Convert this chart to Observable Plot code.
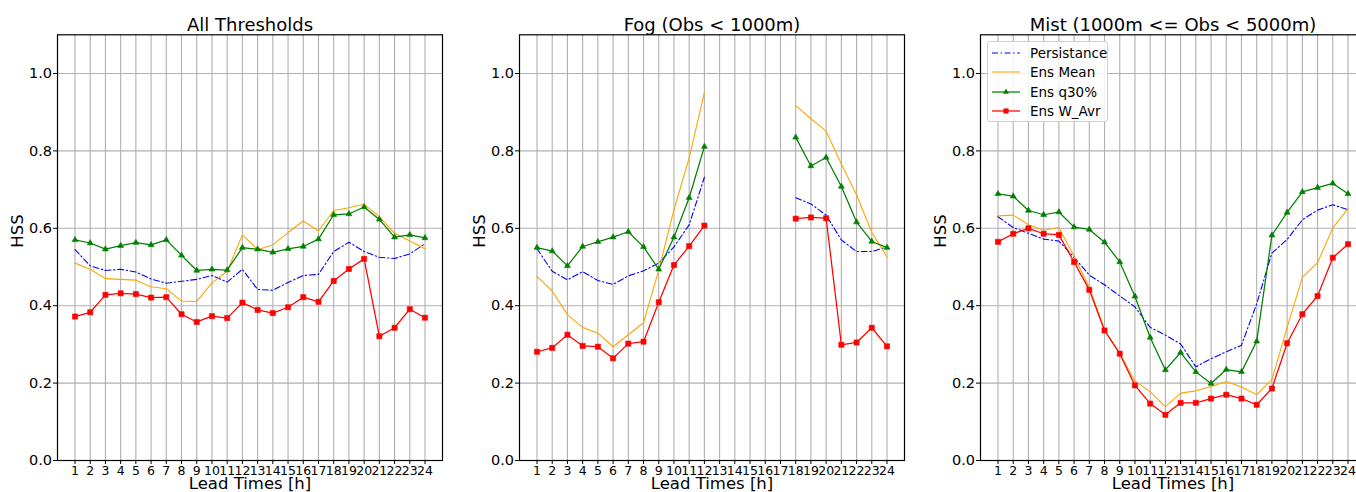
<!DOCTYPE html>
<html>
<head>
<meta charset="utf-8">
<script src="https://cdn.jsdelivr.net/npm/d3@7"></script>
<script src="https://cdn.jsdelivr.net/npm/@observablehq/plot@0.6"></script>
<style>
  html, body { margin: 0; padding: 0; background: #fff; }
  #wrap { position: relative; width: 1356px; height: 492px; overflow: hidden; font-family: "DejaVu Sans", sans-serif; }
  .panel { position: absolute; top: 0; width: 460px; height: 492px; }
  .panel svg { max-width: none !important; width: 460px !important; height: 492px !important; }
  .legend { position: absolute; left: 987px; top: 41px; width: 121px; height: 81px; box-sizing: border-box;
    border: 1px solid #d0d0d0; border-radius: 3px; background: rgba(255,255,255,0.85); font-size: 13.5px; color: #000; }
  .legend .row { position: absolute; left: 0; height: 19px; display: flex; align-items: center; white-space: nowrap; }
  .legend svg { margin-left: 4px; margin-right: 10px; }
</style>
</head>
<body>
<div id="wrap"></div>
<script>
// ---------------- data ----------------
const hours = [1, 2, 3, 4, 5, 6, 7, 8, 9, 10, 11, 12, 13, 14, 15, 16, 17, 18, 19, 20, 21, 22, 23, 24];
const xTickLabels = ["1","2","3","4","5","6","7","8","9","10","11","12","13","14","15","16","17","18","19","20","21","22","23","24"];
const yTicks = [0.0, 0.2, 0.4, 0.6, 0.8, 1.0];
const panelTitles = ["All Thresholds", "Fog (Obs < 1000m)", "Mist (1000m <= Obs < 5000m)"];
const seriesNames = ["Persistance", "Ens Mean", "Ens q30%", "Ens W_Avr"];

const allPersist = [0.545, 0.503, 0.491, 0.494, 0.487, 0.469, 0.458, 0.463, 0.468, 0.478, 0.461, 0.494, 0.442, 0.440, 0.460, 0.478, 0.481, 0.540, 0.564, 0.540, 0.525, 0.522, 0.534, 0.560];
const allMean    = [0.510, 0.494, 0.470, 0.468, 0.466, 0.449, 0.444, 0.412, 0.411, 0.459, 0.489, 0.583, 0.545, 0.557, 0.589, 0.619, 0.593, 0.646, 0.653, 0.662, 0.630, 0.587, 0.567, 0.547];
const allQ30     = [0.570, 0.562, 0.546, 0.555, 0.563, 0.557, 0.570, 0.530, 0.491, 0.494, 0.492, 0.550, 0.546, 0.538, 0.547, 0.553, 0.572, 0.635, 0.637, 0.655, 0.623, 0.577, 0.583, 0.575];
const allWavr    = [0.372, 0.383, 0.428, 0.432, 0.430, 0.421, 0.422, 0.378, 0.358, 0.373, 0.368, 0.408, 0.389, 0.381, 0.396, 0.422, 0.410, 0.464, 0.495, 0.521, 0.321, 0.343, 0.391, 0.369];

const fogPersist = [0.547, 0.489, 0.467, 0.488, 0.465, 0.455, 0.477, 0.490, 0.510, 0.552, 0.609, 0.732, null, null, null, null, null, 0.679, 0.663, 0.634, 0.570, 0.540, 0.540, 0.552];
const fogMean    = [0.476, 0.438, 0.377, 0.344, 0.329, 0.294, 0.325, 0.356, 0.492, 0.648, 0.782, 0.951, null, null, null, null, null, 0.917, 0.883, 0.851, 0.766, 0.686, 0.590, 0.526];
const fogQ30     = [0.550, 0.541, 0.503, 0.553, 0.565, 0.577, 0.591, 0.552, 0.494, 0.577, 0.679, 0.811, null, null, null, null, null, 0.835, 0.761, 0.783, 0.708, 0.616, 0.566, 0.550];
const fogWavr    = [0.281, 0.291, 0.325, 0.296, 0.294, 0.264, 0.302, 0.307, 0.409, 0.505, 0.554, 0.607, null, null, null, null, null, 0.625, 0.628, 0.626, 0.299, 0.305, 0.343, 0.295];

const mistPersist = [0.630, 0.602, 0.587, 0.572, 0.567, 0.525, 0.479, 0.454, 0.425, 0.397, 0.344, 0.324, 0.301, 0.242, 0.263, 0.281, 0.298, 0.405, 0.536, 0.571, 0.622, 0.647, 0.661, 0.648];
const mistMean    = [0.632, 0.634, 0.609, 0.595, 0.602, 0.528, 0.447, 0.338, 0.277, 0.205, 0.178, 0.139, 0.174, 0.180, 0.191, 0.204, 0.190, 0.170, 0.209, 0.344, 0.473, 0.511, 0.601, 0.651];
const mistQ30     = [0.689, 0.683, 0.646, 0.635, 0.642, 0.603, 0.597, 0.564, 0.513, 0.424, 0.318, 0.234, 0.279, 0.229, 0.199, 0.235, 0.229, 0.308, 0.582, 0.641, 0.694, 0.705, 0.716, 0.689];
const mistWavr    = [0.565, 0.586, 0.600, 0.586, 0.583, 0.513, 0.441, 0.336, 0.276, 0.194, 0.147, 0.118, 0.149, 0.149, 0.160, 0.170, 0.160, 0.144, 0.186, 0.303, 0.378, 0.425, 0.524, 0.559];

// ---------------- styles ----------------
const styles = [
  {stroke: "#0000ff", strokeWidth: 1.1, dash: "6,2.6,1.4,2.6", symbol: null},
  {stroke: "#ffa500", strokeWidth: 1.1, dash: null, symbol: null},
  {stroke: "#008000", strokeWidth: 1.25, dash: null, symbol: "triangle", r: 2.2},
  {stroke: "#ff0000", strokeWidth: 1.25, dash: null, symbol: "square", r: 2.9}
];
const FONT = "DejaVu Sans";
const panelLefts = [-0.7, 460.7, 922];

function rows(arr) { return hours.map((h, i) => ({h, v: arr[i]})); }

function makePanel(title, seriesArrays) {
  const marks = [
    Plot.gridX(hours, {stroke: "#b0b0b0", strokeOpacity: 1, strokeWidth: 1.1}),
    Plot.gridY(yTicks, {stroke: "#b0b0b0", strokeOpacity: 1, strokeWidth: 1.1})
  ];
  seriesArrays.forEach((arr, k) => {
    const s = styles[k];
    const data = rows(arr);
    marks.push(Plot.line(data, {x: "h", y: "v", stroke: s.stroke, strokeWidth: s.strokeWidth,
      strokeDasharray: s.dash || undefined, curve: "linear"}));
    if (s.symbol) {
      marks.push(Plot.dot(data.filter(d => d.v != null), {x: "h", y: "v", symbol: s.symbol, r: s.r,
        fill: s.stroke, stroke: s.stroke, strokeWidth: 0.6}));
    }
  });
  marks.push(
    Plot.frame({stroke: "black", strokeWidth: 1.2}),
    Plot.axisX(hours, {tickSize: 4, tickPadding: 1.5, fontSize: 12.5, label: null,
      tickFormat: d => xTickLabels[hours.indexOf(d)]}),
    Plot.axisY(yTicks, {tickSize: 4, tickPadding: 1.5, fontSize: 14.5, label: null, tickFormat: d => d.toFixed(1)}),
    Plot.text([title], {frameAnchor: "top", lineAnchor: "middle", dy: -10, fontSize: 18, fill: "black"}),
    Plot.text(["HSS"], {frameAnchor: "left", lineAnchor: "middle", dx: -40, rotate: -90, fontSize: 16.5, fill: "black"}),
    Plot.text(["Lead Times [h]"], {frameAnchor: "bottom", lineAnchor: "middle", dy: 23, fontSize: 16.5, fill: "black"})
  );
  return Plot.plot({
    width: 460, height: 492,
    marginLeft: 58, marginRight: 17, marginTop: 34.3, marginBottom: 32,
    style: {fontFamily: FONT, background: "transparent", color: "black", overflow: "visible"},
    x: {domain: [-0.15, 25.15]},
    y: {domain: [0, 1.1]},
    marks
  });
}

const wrap = document.getElementById("wrap");
const panelData = [
  [allPersist, allMean, allQ30, allWavr],
  [fogPersist, fogMean, fogQ30, fogWavr],
  [mistPersist, mistMean, mistQ30, mistWavr]
];
panelData.forEach((series, i) => {
  const svg = makePanel(panelTitles[i], series);
  const div = document.createElement("div");
  div.className = "panel";
  div.style.left = panelLefts[i] + "px";
  div.appendChild(svg);
  wrap.appendChild(div);
});

// legend (in the third panel)
const legend = document.createElement("div");
legend.className = "legend";
seriesNames.forEach((name, k) => {
  const s = styles[k];
  const row = document.createElement("div");
  row.className = "row";
  row.style.top = (1.5 + k * 19.3) + "px";
  const ns = "http://www.w3.org/2000/svg";
  const svg = document.createElementNS(ns, "svg");
  svg.setAttribute("width", 28); svg.setAttribute("height", 10);
  const ln = document.createElementNS(ns, "line");
  ln.setAttribute("x1", 0); ln.setAttribute("x2", 28); ln.setAttribute("y1", 5); ln.setAttribute("y2", 5);
  ln.setAttribute("stroke", s.stroke); ln.setAttribute("stroke-width", s.strokeWidth);
  if (s.dash) ln.setAttribute("stroke-dasharray", s.dash);
  svg.appendChild(ln);
  if (s.symbol) {
    const p = document.createElementNS(ns, "path");
    const sym = s.symbol === "triangle" ? d3.symbolTriangle : d3.symbolSquare;
    p.setAttribute("d", d3.symbol(sym, Math.PI * s.r * s.r)());
    p.setAttribute("transform", "translate(14,5)");
    p.setAttribute("fill", s.stroke);
    svg.appendChild(p);
  }
  row.appendChild(svg);
  const t = document.createElement("span");
  t.textContent = name;
  row.appendChild(t);
  legend.appendChild(row);
});
wrap.appendChild(legend);
</script>
</body>
</html>
